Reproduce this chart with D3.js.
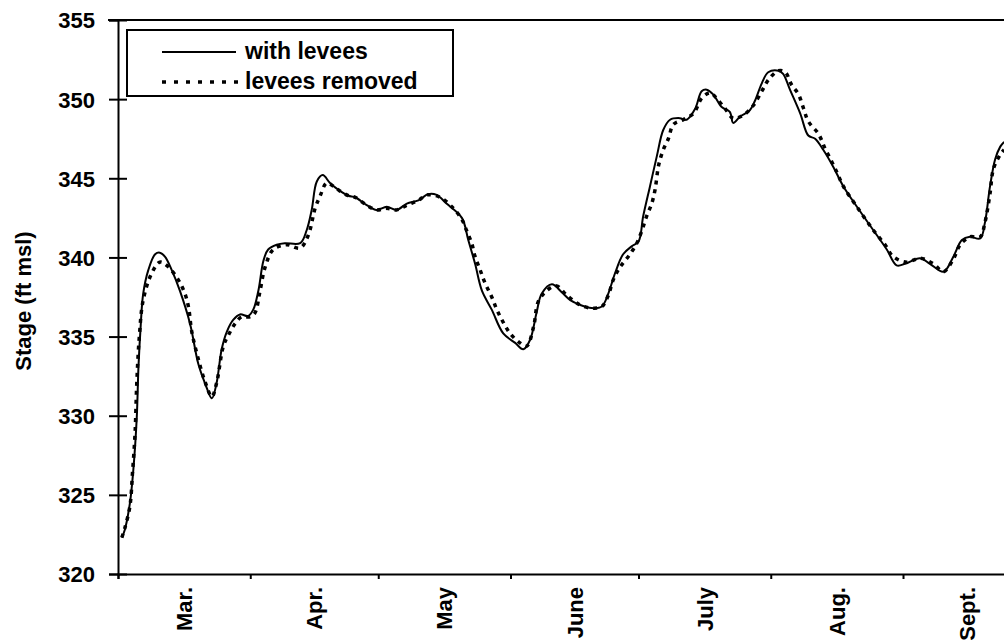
<!DOCTYPE html>
<html>
<head>
<meta charset="utf-8">
<script src="https://cdn.jsdelivr.net/npm/d3@7"></script>
<style>
  body { margin: 0; background: #fff; }
  svg { display: block; font-family: Arial, "Liberation Sans", sans-serif; font-weight: bold; }
</style>
</head>
<body>
<svg id="chart" width="1004" height="644"></svg>
<script>

// days since Mar. 1
const withDays = [0.9, 1.6, 2.8, 3.6, 4.4, 4.8, 5.3, 5.9, 7.1, 8.7, 9.8, 11.0, 12.6, 14.5, 16.9, 18.8, 20.4, 22.0, 23.1, 24.3,
	25.5, 27.0, 28.6, 30.5, 31.7, 32.9, 34.1, 35.2, 37.2, 39.1, 42.7, 44.2, 45.4, 46.6, 48.0, 49.7, 52.0, 54.0, 55.6, 58.3,
	60.6, 63.0, 65.3, 67.7, 70.4, 72.7, 74.7, 77.0, 80.6, 82.1, 83.7, 85.3, 87.6, 90.3, 93.1, 95.0, 96.6, 98.1, 99.3, 101.7,
	104.0, 106.0, 108.3, 111.0, 113.4, 114.9, 116.5, 118.4, 120.4, 122.0, 123.1, 124.7, 126.3, 127.8, 129.4, 131.7, 133.3, 135.3, 136.8, 138.0,
	139.5, 141.5, 143.4, 144.2, 145.8, 148.1, 149.3, 150.9, 152.4, 154.8, 155.9, 157.5, 159.9, 161.8, 163.4, 165.3, 167.7, 170.0, 173.2, 177.1,
	180.2, 182.5, 184.5, 188.0, 190.3, 193.5, 195.8, 197.8, 199.7, 202.1, 203.2, 204.4, 205.6, 206.8, 207.7]
const withStage = [322.3, 322.8, 324.5, 326.6, 329.9, 333.1, 335.6, 337.7, 339.2, 340.2, 340.3, 340.05, 339.2, 337.9, 335.8, 333.3, 332.05, 331.1, 332.05, 334.2,
	335.3, 336.05, 336.4, 336.3, 336.7, 337.9, 339.8, 340.5, 340.8, 340.9, 340.9, 341.7, 343.0, 344.8, 345.2, 344.7, 344.2, 343.9, 343.8, 343.3,
	343.0, 343.2, 343.0, 343.4, 343.6, 344.0, 343.95, 343.4, 342.5, 341.1, 339.6, 337.9, 336.7, 335.2, 334.6, 334.2, 334.8, 336.5, 337.7, 338.3,
	337.8, 337.3, 337.0, 336.8, 336.9, 337.7, 339.0, 340.2, 340.7, 341.0, 342.6, 344.5, 346.4, 348.05, 348.7, 348.8, 348.7, 349.4, 350.5, 350.6,
	350.3, 349.5, 349.2, 348.5, 348.9, 349.3, 349.9, 351.0, 351.7, 351.8, 351.6, 350.6, 349.1, 347.7, 347.5, 346.8, 345.7, 344.5, 343.2, 341.7,
	340.5, 339.5, 339.6, 339.95, 339.6, 339.1, 340.05, 341.1, 341.3, 341.2, 342.2, 344.5, 346.2, 347.0, 347.3]

const removedDays = [0.9, 1.6, 2.8, 3.4, 4.0, 4.4, 5.0, 5.9, 7.9, 9.8, 11.4, 14.1, 15.7, 16.5, 17.3, 18.8, 20.4, 22.0, 23.1, 24.7,
	25.9, 27.4, 29.0, 30.9, 32.1, 33.3, 34.5, 36.4, 39.5, 42.7, 44.6, 46.2, 47.4, 48.9, 50.5, 52.0, 54.0, 55.6, 58.3, 60.6,
	63.0, 65.3, 67.7, 70.4, 72.4, 75.5, 78.6, 80.6, 81.7, 82.9, 83.7, 84.9, 86.0, 87.6, 88.8, 90.3, 91.9, 94.2, 95.8, 97.4,
	98.5, 100.5, 102.8, 105.2, 108.3, 111.0, 113.4, 114.9, 116.1, 117.7, 120.0, 121.6, 122.8, 123.9, 125.1, 125.9, 126.7, 127.8, 129.0, 130.2,
	132.5, 134.9, 136.8, 138.8, 140.3, 142.3, 144.2, 146.6, 148.9, 150.9, 152.4, 154.8, 156.4, 157.9, 159.5, 160.7, 161.8, 164.2, 165.7, 167.3,
	168.8, 170.0, 173.2, 177.1, 179.8, 181.7, 184.9, 188.0, 191.1, 193.5, 195.8, 197.4, 199.7, 202.1, 203.2, 204.4, 205.2, 206.8, 207.7]
const removedStage = [322.3, 322.9, 324.3, 326.4, 328.9, 332.05, 335.0, 337.3, 339.0, 339.7, 339.5, 338.6, 337.7, 336.9, 335.3, 333.6, 332.15, 331.2, 332.05, 334.4,
	335.1, 335.8, 336.25, 336.25, 336.5, 337.9, 339.4, 340.5, 340.8, 340.6, 341.4, 343.1, 343.9, 344.7, 344.5, 344.2, 343.9, 343.8, 343.3, 343.0,
	343.1, 343.0, 343.3, 343.6, 343.95, 343.8, 343.1, 342.4, 341.7, 340.9, 340.05, 339.2, 338.4, 337.5, 336.7, 335.9, 335.2, 334.6, 334.4, 335.6,
	337.2, 337.9, 338.2, 337.6, 337.0, 336.8, 336.9, 337.6, 338.6, 339.4, 340.2, 340.9, 341.7, 342.6, 343.4, 344.3, 345.8, 346.8, 347.5, 348.4,
	348.7, 349.1, 350.05, 350.4, 350.05, 349.4, 348.8, 349.0, 349.6, 350.5, 351.2, 351.8, 351.7, 350.9, 350.3, 349.4, 348.6, 347.8, 346.9, 346.05,
	345.2, 344.5, 343.2, 341.7, 340.8, 340.05, 339.7, 339.95, 339.6, 339.1, 339.9, 340.8, 341.3, 341.3, 342.2, 344.05, 345.6, 346.5, 346.8]

const months = ['Mar.', 'Apr.', 'May', 'June', 'July', 'Aug.', 'Sept.']
const yTicks = [320, 325, 330, 335, 340, 345, 350, 355]
const seriesNames = ['with levees', 'levees removed']


const start = Date.UTC(2001, 2, 1)
const end = Date.UTC(2001, 9, 1)
const dayToDate = d => new Date(start + d * 864e5)

const plotLeft = 118
const plotRight = 1031
const plotTop = 20
const plotBottom = 574

const svg = d3.select('#chart')

const x = d3.scaleUtc()
	.domain([new Date(start), new Date(end)])
	.range([plotLeft, plotRight])

const y = d3.scaleLinear()
	.domain([320, 355])
	.range([plotBottom, plotTop])

svg.append('clipPath')
	.attr('id', 'plot')
	.append('rect')
	.attr('x', plotLeft)
	.attr('y', plotTop - 10)
	.attr('width', plotRight - plotLeft)
	.attr('height', plotBottom - plotTop + 10)

const line = d3.line()
	.x(d => x(dayToDate(d[0])))
	.y(d => y(d[1]))
	.curve(d3.curveCatmullRom)

const g = svg.append('g').attr('clip-path', 'url(#plot)')

g.append('path')
	.datum(d3.zip(removedDays, removedStage))
	.attr('d', line)
	.attr('fill', 'none')
	.attr('stroke', '#000')
	.attr('stroke-width', 3.5)
	.attr('stroke-dasharray', '4,5')

g.append('path')
	.datum(d3.zip(withDays, withStage))
	.attr('d', line)
	.attr('fill', 'none')
	.attr('stroke', '#000')
	.attr('stroke-width', 2)

// frame: top edge
svg.append('line')
	.attr('x1', plotLeft - 10).attr('x2', 1004)
	.attr('y1', plotTop).attr('y2', plotTop)
	.attr('stroke', '#000').attr('stroke-width', 2)

// y axis
const yAxis = svg.append('g')
	.attr('transform', `translate(${plotLeft},0)`)
	.call(d3.axisLeft(y).tickValues(yTicks).tickSize(9).tickPadding(14))

yAxis.select('.domain').attr('stroke-width', 2)
yAxis.selectAll('.tick line').attr('x1', 9).attr('stroke-width', 2)
yAxis.selectAll('.tick text')
	.attr('font-size', 22)
	.attr('font-weight', 'bold')
	.attr('font-family', 'Arial, "Liberation Sans", sans-serif')
	.attr('fill', '#000')
	.attr('dy', '0.36em')

// x axis
const xAxis = svg.append('g')
	.attr('transform', `translate(0,${plotBottom})`)
	.call(d3.axisBottom(x).ticks(d3.utcMonth.every(1)).tickSize(5).tickFormat(''))

xAxis.select('.domain').attr('stroke-width', 2)
xAxis.selectAll('.tick line').attr('stroke-width', 2)

const monthStarts = d3.utcMonth.range(new Date(start), new Date(end))

svg.append('g')
	.selectAll('text')
	.data(monthStarts)
	.enter()
	.append('text')
	.attr('transform', d => {
		const mid = (x(d) + x(d3.utcMonth.offset(d, 1))) / 2
		return `translate(${mid + 8},${plotBottom + 13}) rotate(-90)`
	})
	.attr('text-anchor', 'end')
	.attr('font-size', 22)
	.text((d, i) => months[i])

// y title
svg.append('text')
	.attr('transform', `translate(31,${(plotTop + plotBottom) / 2 + 4}) rotate(-90)`)
	.attr('text-anchor', 'middle')
	.attr('font-size', 22)
	.text('Stage (ft msl)')

// legend
const legend = svg.append('g')

legend.append('rect')
	.attr('x', 127).attr('y', 30)
	.attr('width', 326).attr('height', 66)
	.attr('fill', '#fff')
	.attr('stroke', '#000')
	.attr('stroke-width', 2)

legend.append('line')
	.attr('x1', 162).attr('x2', 236)
	.attr('y1', 52).attr('y2', 52)
	.attr('stroke', '#000').attr('stroke-width', 2)

legend.append('line')
	.attr('x1', 162).attr('x2', 242)
	.attr('y1', 82).attr('y2', 82)
	.attr('stroke', '#000').attr('stroke-width', 3.5)
	.attr('stroke-dasharray', '4,8')

legend.selectAll('.lab')
	.data(seriesNames)
	.enter()
	.append('text')
	.attr('class', 'lab')
	.attr('x', 245)
	.attr('y', (d, i) => 59 + i * 30)
	.attr('font-size', 23)
	.text(d => d)

</script>
</body>
</html>
